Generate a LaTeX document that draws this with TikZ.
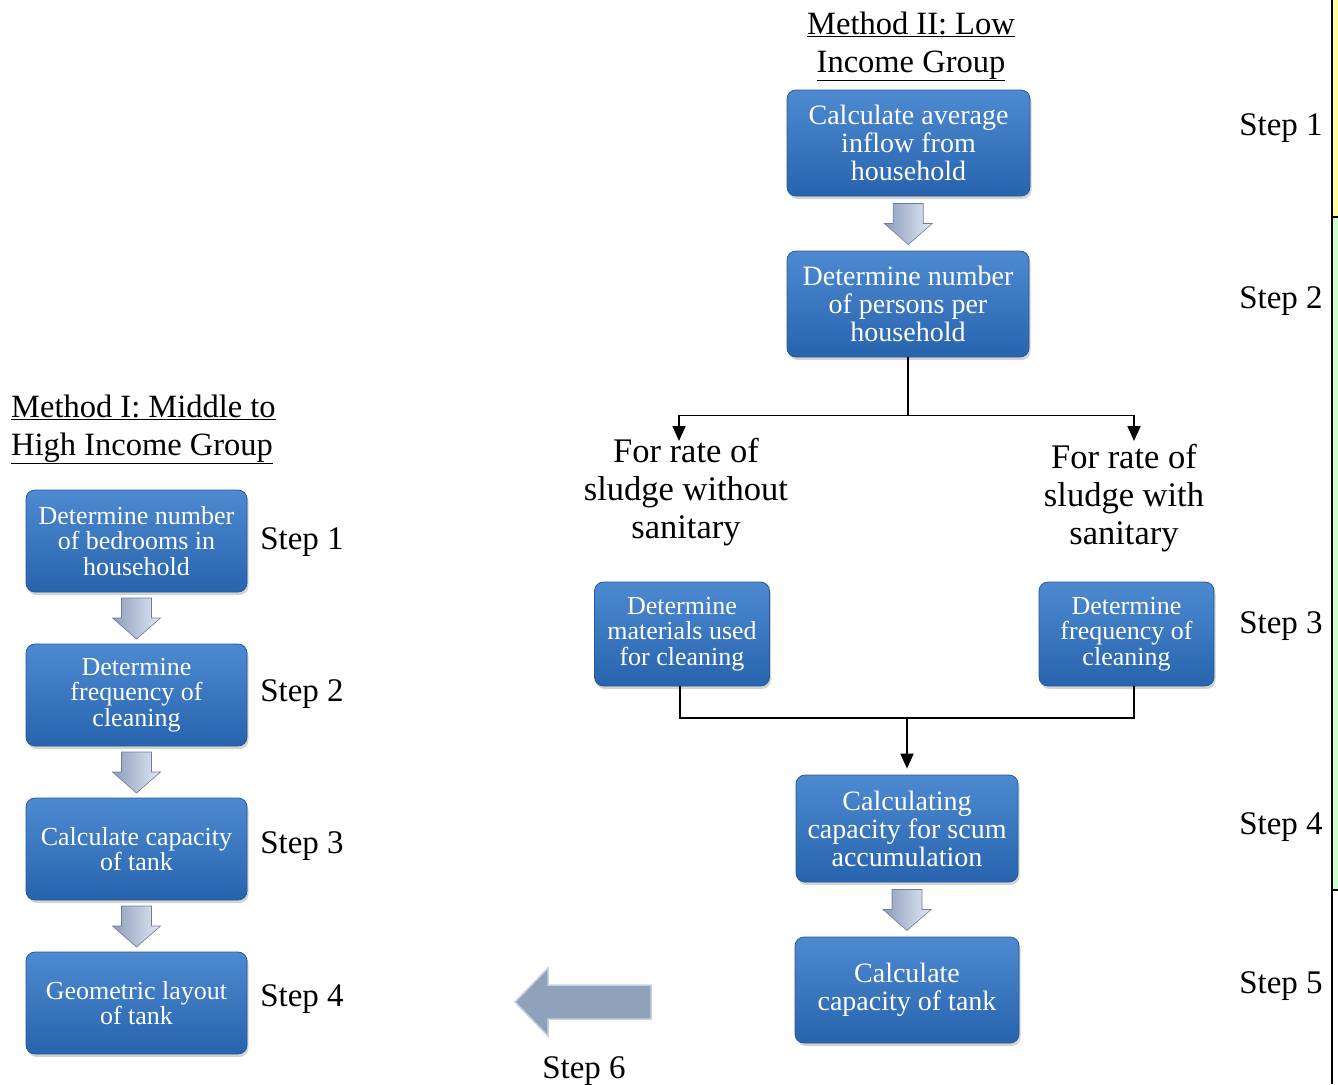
\documentclass[tikz,border=0pt]{standalone}
\usepackage{fontspec}
\setmainfont{Liberation Serif}
\usetikzlibrary{arrows.meta,shadows,calc}

\definecolor{boxtop}{RGB}{78,138,208}
\definecolor{boxbot}{RGB}{40,100,174}
\definecolor{boxedge}{RGB}{40,88,150}
\definecolor{arrlight}{RGB}{226,233,246}
\definecolor{arrdark}{RGB}{140,156,186}
\definecolor{arredge}{RGB}{110,124,150}
\definecolor{bigarr}{RGB}{143,162,186}
\definecolor{bigarredge}{RGB}{196,210,228}
\definecolor{stripyellow}{RGB}{255,255,153}
\definecolor{stripgreen}{RGB}{204,255,204}

\begin{document}
\begin{tikzpicture}[x=1pt,y=-1pt,
  stepbox/.style={rounded corners=9pt, top color=boxtop, bottom color=boxbot,
    draw=boxedge, line width=0.8pt, text=white, align=center, inner sep=0pt,
    drop shadow={opacity=0.35, shadow xshift=1.5pt, shadow yshift=-3pt}},
  bigtxt/.style={font=\fontsize{28}{28}\selectfont},
  smalltxt/.style={font=\fontsize{26}{25.5}\selectfont},
  steplabel/.style={font=\fontsize{33}{36}\selectfont, anchor=base},
  titletxt/.style={font=\fontsize{32.5}{36}\selectfont, anchor=base},
  branchtxt/.style={font=\fontsize{34.5}{38}\selectfont, align=center},
  link/.style={line width=1.8pt},
  linkarrow/.style={line width=1.8pt, -{Triangle[width=13pt,length=15pt]}},
  blockdown/.pic={
    \path[left color=arrdark, right color=arrlight, draw=arredge, line width=0.6pt]
      (-15,-20) -- (15,-20) -- (15,0) -- (24,0) -- (0,21) -- (-24,0) -- (-15,0) -- cycle;
  }]
\useasboundingbox (0,0) rectangle (1338,1084);

% side strip on the right edge
\fill[stripyellow] (1332,0) rectangle (1338,216);
\fill[stripgreen] (1332,217) rectangle (1338,889);
\draw[line width=2pt] (1331.5,0) -- (1331.5,1084);
\draw[line width=2pt] (1331,216.5) -- (1338,216.5);
\draw[line width=2pt] (1331,889.5) -- (1338,889.5);

% ---------- Method II ----------
\node[titletxt] (t2a) at (911,34) {\underline{Method II: Low}};
\node[titletxt] (t2b) at (911,72) {\underline{Income Group}};

\node[stepbox, bigtxt, minimum width=243pt, minimum height=106pt] (r1) at (908.5,143)
  {Calculate average\\inflow from\\household};
\node[stepbox, bigtxt, minimum width=242pt, minimum height=106pt] (r2) at (908,304)
  {Determine number\\of persons per\\household};

\pic at ($(r1.south)!0.5!(r2.north)$) {blockdown};

\path (r2.south) ++(0,58) coordinate (split);
\coordinate (aL) at (679,441);
\coordinate (aR) at (1134,441);
\draw[link] (r2.south) -- (split);
\draw[linkarrow] (split) -| (aL);
\draw[linkarrow] (split) -| (aR);

\node[branchtxt] (wA) at (686,492) {For rate of\\sludge without\\sanitary};
\node[branchtxt] (wB) at (1124,498) {For rate of\\sludge with\\sanitary};

\node[stepbox, smalltxt, minimum width=175pt, minimum height=104pt] (r3a) at (682,634)
  {Determine\\materials used\\for cleaning};
\node[stepbox, smalltxt, minimum width=175pt, minimum height=104pt] (r3b) at (1126.5,634)
  {Determine\\frequency of\\cleaning};

\node[stepbox, bigtxt, minimum width=222pt, minimum height=107pt] (r4) at (907,828.5)
  {Calculating\\capacity for scum\\accumulation};
\node[stepbox, bigtxt, minimum width=224pt, minimum height=106pt] (r5) at (907,990)
  {Calculate\\capacity of tank};

\coordinate (merge) at (907,718);
\draw[link] ($(r3a.south)+(-2,0)$) |- (merge) -| ($(r3b.south)+(7.5,0)$);
\draw[linkarrow, shorten >=6pt] (merge) -- (r4.north);

\pic at ($(r4.south)!0.5!(r5.north)$) {blockdown};

% step labels, Method II
\node[steplabel] (s1) at (1281,135) {Step 1};
\node[steplabel] (s2) at (1281,308) {Step 2};
\node[steplabel] (s3) at (1281,633) {Step 3};
\node[steplabel] (s4) at (1281,834) {Step 4};
\node[steplabel] (s5) at (1281,993) {Step 5};

% step 6 block arrow
\path[fill=bigarr, draw=bigarredge, line width=1.5pt]
  (651,985) -- (548,985) -- (548,968) -- (515,1002) -- (548,1036) -- (548,1019) -- (651,1019) -- cycle;
\node[steplabel] (s6) at (584,1078) {Step 6};

% ---------- Method I ----------
\node[titletxt, anchor=base west, inner xsep=0pt] (t1a) at (11,417) {\underline{Method I: Middle to}};
\node[titletxt, anchor=base west, inner xsep=0pt] (t1b) at (11,455) {\underline{High Income Group}};

\node[stepbox, smalltxt, minimum width=221pt, minimum height=102pt] (l1) at (136.5,541)
  {Determine number\\of bedrooms in\\household};
\node[stepbox, smalltxt, minimum width=221pt, minimum height=102pt] (l2) at (136.5,695)
  {Determine\\frequency of\\cleaning};
\node[stepbox, smalltxt, minimum width=221pt, minimum height=102pt] (l3) at (136.5,849)
  {Calculate capacity\\of tank};
\node[stepbox, smalltxt, minimum width=221pt, minimum height=102pt] (l4) at (136.5,1003)
  {Geometric layout\\of tank};

\pic at ($(l1.south)!0.5!(l2.north)$) {blockdown};
\pic at ($(l2.south)!0.5!(l3.north)$) {blockdown};
\pic at ($(l3.south)!0.5!(l4.north)$) {blockdown};

\node[steplabel] (m1) at (302,549) {Step 1};
\node[steplabel] (m2) at (302,701) {Step 2};
\node[steplabel] (m3) at (302,853) {Step 3};
\node[steplabel] (m4) at (302,1006) {Step 4};

\end{tikzpicture}
\end{document}
